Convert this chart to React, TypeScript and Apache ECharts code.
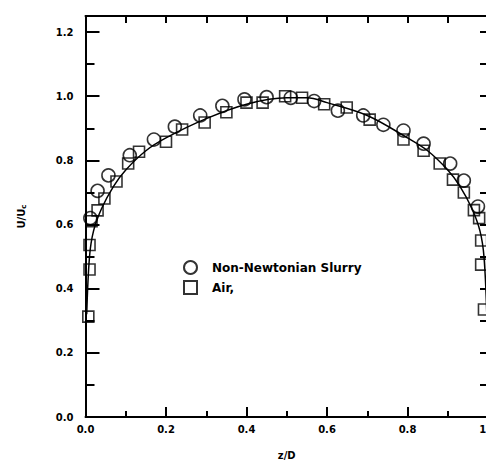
import React, { useEffect, useRef } from "react";
import * as echarts from "echarts";

const slurryX = [0.012, 0.03, 0.057, 0.11, 0.17, 0.222, 0.285, 0.34, 0.395, 0.45, 0.51, 0.568, 0.627, 0.69, 0.74, 0.79, 0.84, 0.906, 0.94, 0.975];
const slurryY = [0.62, 0.705, 0.753, 0.816, 0.865, 0.905, 0.94, 0.97, 0.99, 0.997, 0.995, 0.985, 0.955, 0.94, 0.911, 0.893, 0.852, 0.79, 0.737, 0.656];

const airX = [0.007, 0.01, 0.01, 0.015, 0.03, 0.047, 0.077, 0.106, 0.133, 0.2, 0.24, 0.296, 0.35, 0.4, 0.44, 0.496, 0.538, 0.593, 0.649, 0.706, 0.79, 0.84, 0.88, 0.913, 0.94, 0.965, 0.978, 0.983, 0.983, 0.99];
const airY = [0.313, 0.46, 0.536, 0.61, 0.644, 0.681, 0.734, 0.79, 0.827, 0.858, 0.896, 0.918, 0.95, 0.98, 0.98, 1.0, 0.995, 0.975, 0.965, 0.927, 0.865, 0.83, 0.79, 0.74, 0.7, 0.645, 0.62, 0.55, 0.475, 0.335];

const fitX = [0.003, 0.01, 0.02, 0.04, 0.07, 0.1, 0.15, 0.2, 0.3, 0.4, 0.5, 0.55, 0.6, 0.7, 0.8, 0.85, 0.9, 0.93, 0.96, 0.98, 0.99, 0.997];
const fitY = [0.32, 0.5, 0.58, 0.65, 0.72, 0.77, 0.83, 0.87, 0.93, 0.975, 0.995, 0.995, 0.98, 0.94, 0.87, 0.83, 0.77, 0.72, 0.65, 0.58, 0.5, 0.32];

const xTicks = [0, 0.2, 0.4, 0.6, 0.8, 1.0];
const yTicks = [0, 0.2, 0.4, 0.6, 0.8, 1.0, 1.2];

const FONT = "DejaVu Sans";

export default function App() {
  const ref = useRef<HTMLDivElement>(null);
  useEffect(() => {
    if (!ref.current) return;
    const chart = echarts.init(ref.current, undefined, { renderer: "svg" });
    const pairs = (xs: number[], ys: number[]) => xs.map((x, i) => [x, ys[i]]);
    const lbl = (v: number, ticks: number[]) =>
      ticks.some((t) => Math.abs(t - v) < 1e-6) ? v.toFixed(1) : "";
    const line = () => ({ show: true, onZero: false, lineStyle: { color: "#000", width: 2 } });
    const text = () => ({ fontFamily: FONT, fontWeight: "bold" as const, fontSize: 10, color: "#000" });
    const tickStyle = () => ({ color: "#000", width: 2 });
    chart.setOption({
      animation: false,
      grid: { left: 75, right: 14, top: 8, bottom: 54 },
      legend: {
        orient: "vertical",
        left: 170,
        top: 247,
        itemWidth: 13,
        itemHeight: 13,
        itemGap: 5,
        data: ["Non-Newtonian Slurry", "Air,"],
        textStyle: { fontFamily: FONT, fontWeight: "bold", fontSize: 12, color: "#000", padding: [0, 0, 0, 10] },
      },
      xAxis: [
        {
          type: "value",
          min: 0,
          max: 1,
          interval: 0.2,
          name: "z/D",
          nameLocation: "middle",
          nameGap: 33,
          nameTextStyle: text(),
          axisLine: line(),
          axisTick: { show: true, inside: true, length: 10, lineStyle: tickStyle() },
          minorTick: { show: true, splitNumber: 2, length: 6, lineStyle: tickStyle() },
          splitLine: { show: false },
          axisLabel: { ...text(), margin: 7, showMaxLabel: true, formatter: (v: number) => lbl(v, xTicks) },
        },
        {
          type: "value",
          position: "top",
          min: 0,
          max: 1,
          interval: 0.1,
          axisLine: line(),
          axisTick: { show: true, inside: true, length: 7, lineStyle: tickStyle() },
          axisLabel: { show: false },
          splitLine: { show: false },
        },
      ],
      yAxis: [
        {
          type: "value",
          min: 0,
          max: 1.25,
          interval: 0.2,
          name: "U/U{sub|c}",
          nameLocation: "middle",
          nameGap: 58,
          nameRotate: 90,
          nameTextStyle: {
            ...text(),
            rich: { sub: { fontFamily: FONT, fontWeight: "bold", fontSize: 7, verticalAlign: "bottom", padding: [6, 0, 0, 0] } },
          },
          axisLine: line(),
          axisTick: { show: true, inside: true, length: 14, lineStyle: tickStyle() },
          minorTick: { show: true, splitNumber: 2, length: 9, lineStyle: tickStyle() },
          splitLine: { show: false },
          axisLabel: { ...text(), margin: 12, formatter: (v: number) => lbl(v, yTicks) },
        },
        {
          type: "value",
          position: "right",
          min: 0,
          max: 1.25,
          interval: 0.1,
          axisLine: line(),
          axisTick: { show: true, inside: true, length: 8, lineStyle: tickStyle() },
          axisLabel: { show: false },
          splitLine: { show: false },
        },
      ],
      series: [
        {
          name: "fit",
          type: "line",
          data: pairs(fitX, fitY),
          smooth: 0.35,
          showSymbol: false,
          lineStyle: { color: "#000", width: 1.5 },
        },
        {
          name: "Air,",
          type: "scatter",
          symbol: "rect",
          symbolSize: 11,
          data: pairs(airX, airY),
          itemStyle: { color: "rgba(255,255,255,0)", borderColor: "#000", borderWidth: 1.6 },
        },
        {
          name: "Non-Newtonian Slurry",
          type: "scatter",
          symbol: "circle",
          symbolSize: 13,
          data: pairs(slurryX, slurryY),
          itemStyle: { color: "rgba(255,255,255,0)", borderColor: "#000", borderWidth: 1.6 },
        },
      ],
    });
    return () => chart.dispose();
  }, []);
  return <div ref={ref} style={{ width: 494, height: 463 }} />;
}
